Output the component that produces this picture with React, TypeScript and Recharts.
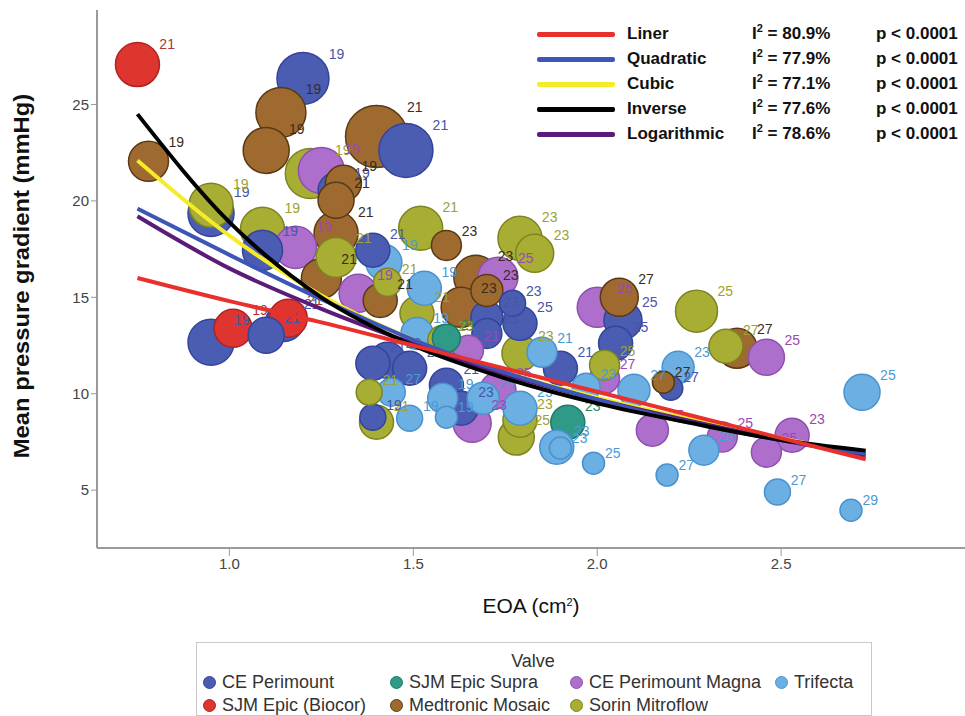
import { Scatter, ScatterChart, XAxis, YAxis, ZAxis } from "recharts";

// [EOA (cm2), mean gradient (mmHg), bubble weight, valve size label]
type Bubble = [number, number, number, string];

const cePerimount: Bubble[] = [
  [1.20, 26.35, 676, "19"], [1.48, 22.62, 729, "21"], [0.95, 19.35, 529, "19"],
  [0.95, 12.67, 529, "19"], [1.10, 13.03, 324, "21"], [1.15, 13.70, 361, "21"],
  [1.29, 20.54, 324, "19"], [1.09, 17.44, 400, "19"], [1.39, 17.44, 289, "21"],
  [1.39, 11.58, 289, "21"], [1.43, 11.74, 324, "23"], [1.49, 11.32, 289, "21"],
  [1.39, 8.78, 169, "19"], [1.59, 10.44, 289, "21"], [1.63, 9.25, 289, "23"],
  [1.70, 13.96, 256, "23"], [1.77, 14.69, 169, "23"], [1.79, 13.65, 289, "25"],
  [1.90, 11.32, 289, "21"], [2.07, 13.81, 361, "25"], [2.05, 12.62, 289, "25"],
  [2.20, 10.28, 144, "27"], [1.70, 13.13, 225, "23"],
];
const sjmBiocor: Bubble[] = [
  [0.75, 27.07, 484, "21"], [1.01, 13.39, 361, "19"], [1.16, 13.91, 361, "21"],
];
const sjmSupra: Bubble[] = [
  [1.92, 8.52, 289, "23"], [1.59, 12.88, 196, "21"],
];
const mosaic: Bubble[] = [
  [1.14, 24.59, 625, "19"], [1.10, 22.62, 529, "19"], [0.78, 22.05, 400, "19"],
  [1.40, 23.34, 961, "21"], [1.31, 20.91, 324, "19"], [1.29, 20.03, 324, "21"],
  [1.29, 18.32, 484, "21"], [1.59, 17.69, 225, "23"], [1.25, 15.98, 400, "21"],
  [1.41, 14.84, 289, "21"], [1.63, 14.48, 400, "23"], [1.67, 16.04, 484, "23"],
  [1.70, 15.36, 256, "23"], [2.06, 15.00, 361, "27"], [2.38, 12.36, 400, "27"],
  [2.18, 10.60, 121, "27"],
];
const magna: Bubble[] = [
  [1.25, 21.58, 529, "19"], [1.18, 17.59, 441, "19"], [1.35, 15.21, 361, "19"],
  [1.65, 12.25, 225, "21"], [1.66, 8.47, 361, "23"], [1.73, 16.04, 400, "25"],
  [2.00, 14.48, 400, "25"], [2.02, 10.80, 225, "27"], [2.15, 8.11, 256, "25"],
  [2.34, 7.75, 225, "25"], [2.46, 6.97, 225, "25"], [2.46, 11.89, 324, "25"],
  [2.53, 7.85, 289, "23"], [1.73, 10.18, 324, "25"],
];
const mitroflow: Bubble[] = [
  [0.95, 19.77, 484, "19"], [1.22, 21.42, 625, "19"], [1.09, 18.53, 484, "19"],
  [1.52, 18.58, 484, "21"], [1.29, 17.07, 400, "21"], [1.43, 15.78, 196, "21"],
  [1.51, 14.17, 289, "21"], [1.58, 12.77, 225, "23"], [1.79, 18.06, 484, "23"],
  [1.83, 17.28, 361, "23"], [1.79, 12.10, 324, "23"], [1.79, 8.63, 289, "23"],
  [1.78, 7.75, 324, "25"], [1.38, 10.08, 169, "21"], [1.40, 8.52, 289, "21"],
  [2.27, 14.28, 441, "25"], [2.35, 12.46, 289, "27"], [2.02, 11.48, 225, "25"],
];
const trifecta: Bubble[] = [
  [1.42, 16.81, 324, "19"], [1.53, 15.47, 289, "19"], [1.51, 13.13, 256, "19"],
  [1.44, 10.08, 196, "27"], [1.49, 8.73, 169, "19"], [1.58, 9.77, 225, "19"],
  [1.59, 8.78, 121, "19"], [1.69, 9.77, 256, "25"], [1.79, 9.25, 289, "25"],
  [1.85, 12.15, 225, "21"], [1.89, 7.23, 289, "23"], [1.90, 7.18, 121, "23"],
  [1.97, 10.34, 196, "23"], [1.99, 6.40, 121, "25"], [2.10, 10.18, 256, "27"],
  [2.22, 11.37, 256, "23"], [2.19, 5.78, 121, "27"], [2.29, 7.07, 225, "25"],
  [2.49, 4.90, 169, "27"], [2.69, 3.96, 121, "29"], [2.72, 10.08, 324, "25"],
];

// fitted curves
const fitEOA = [0.75, 1.0, 1.25, 1.5, 1.75, 2.0, 2.25, 2.5, 2.73];
const linerFit = [16.0, 14.8, 13.7, 12.5, 11.3, 10.1, 8.9, 7.7, 6.6];
const quadraticFit = [19.6, 17.2, 14.9, 12.8, 11.1, 9.7, 8.5, 7.6, 6.9];
const cubicFit = [22.1, 18.2, 15.1, 12.8, 11.1, 9.8, 8.7, 7.7, 6.8];
const inverseFit = [24.5, 18.9, 15.0, 12.5, 10.8, 9.5, 8.5, 7.6, 7.05];
const logFit = [19.2, 16.5, 14.4, 12.6, 11.0, 9.7, 8.6, 7.6, 6.8];

const xTicks = [1.0, 1.5, 2.0, 2.5];
const yTicks = [5, 10, 15, 20, 25];

const groups = [
  { name: "CE Perimount", fill: "#4A5DB2", stroke: "#33449A", text: "#4656A8", data: cePerimount },
  { name: "SJM Epic (Biocor)", fill: "#DE3530", stroke: "#B0231F", text: "#B03434", data: sjmBiocor },
  { name: "SJM Epic Supra", fill: "#2F9A88", stroke: "#1E7A68", text: "#2A8A5C", data: sjmSupra },
  { name: "Medtronic Mosaic", fill: "#9E6A30", stroke: "#5A3A14", text: "#3A2C1E", data: mosaic },
  { name: "CE Perimount Magna", fill: "#AE6FCC", stroke: "#8E4FAE", text: "#9A48B6", data: magna },
  { name: "Sorin Mitroflow", fill: "#A8AE34", stroke: "#7E8420", text: "#9CA232", data: mitroflow },
  { name: "Trifecta", fill: "#6CAFE3", stroke: "#4A92CF", text: "#4A9AD6", data: trifecta },
];
const byName = Object.fromEntries(groups.map((g) => [g.name, g]));
const legendRows = [
  ["CE Perimount", "SJM Epic Supra", "CE Perimount Magna", "Trifecta"],
  ["SJM Epic (Biocor)", "Medtronic Mosaic", "Sorin Mitroflow"],
];
const legendCols = [203, 390, 570, 775];

const fits = [
  { name: "Liner", color: "#E8302C", i2: "80.9%", ys: linerFit },
  { name: "Quadratic", color: "#3E55B8", i2: "77.9%", ys: quadraticFit },
  { name: "Cubic", color: "#F4EC2A", i2: "77.1%", ys: cubicFit },
  { name: "Inverse", color: "#000000", i2: "77.6%", ys: inverseFit },
  { name: "Logarithmic", color: "#5A1C78", i2: "78.6%", ys: logFit },
];
const drawOrder = ["Cubic", "Logarithmic", "Quadratic", "Inverse", "Liner"];

// SAS draws big bubbles first, small ones on top
const bubbles = groups
  .flatMap((g) => g.data.map(([x, y, z, label]) => ({ x, y, z, label, fill: g.fill, stroke: g.stroke, text: g.text })))
  .sort((a, b) => b.z - a.z);

const FONT = "'Liberation Sans', Arial, Helvetica, sans-serif";

const BubbleShape = (p: any) => {
  const r = p.width ? p.width / 2 : Math.sqrt(p.payload.z);
  return <circle cx={p.cx} cy={p.cy} r={r} fill={p.payload.fill} stroke={p.payload.stroke} strokeWidth={1.5} />;
};
const LabelShape = (p: any) => {
  const r = p.width ? p.width / 2 : Math.sqrt(p.payload.z);
  return (
    <text x={p.cx + r * 0.95 + 1} y={p.cy - r * 0.95 + 5} fill={p.payload.text} fontSize={14} fontFamily={FONT}>
      {p.payload.label}
    </text>
  );
};
const NoDot = () => <g />;

const sup = { position: "relative" as const, top: -7, fontSize: 11, lineHeight: 0 };

export default function App() {
  return (
    <div style={{ position: "absolute", left: 0, top: 0, width: 965, height: 716, background: "#fff", fontFamily: FONT, overflow: "hidden" }}>
      <ScatterChart width={965} height={600} margin={{ top: 10, right: 0, bottom: 12, left: 0 }}>
        <XAxis
          type="number"
          dataKey="x"
          domain={[0.64, 3.0]}
          ticks={xTicks}
          tickFormatter={(v) => v.toFixed(1)}
          allowDataOverflow
          height={40}
          stroke="#9a9a9a"
          axisLine={{ stroke: "#9a9a9a", strokeWidth: 2 }}
          tickSize={8}
          tick={{ fill: "#444", fontSize: 15, fontFamily: FONT }}
        />
        <YAxis
          type="number"
          dataKey="y"
          domain={[2, 29.9]}
          ticks={yTicks}
          allowDataOverflow
          width={97}
          stroke="#9a9a9a"
          axisLine={{ stroke: "#9a9a9a", strokeWidth: 2 }}
          tickSize={6}
          tick={{ fill: "#444", fontSize: 15, fontFamily: FONT }}
        />
        <ZAxis type="number" dataKey="z" domain={[0, 1296]} range={[0, 4072]} />
        <Scatter data={bubbles} shape={BubbleShape} isAnimationActive={false} />
        <Scatter data={bubbles} shape={LabelShape} isAnimationActive={false} />
        {drawOrder.map((n) => {
          const f = fits.find((d) => d.name === n)!;
          const data = fitEOA.map((x, i) => ({ x, y: f.ys[i] }));
          return (
            <Scatter
              key={n}
              data={data}
              shape={NoDot}
              line={{ stroke: f.color, strokeWidth: 4 }}
              lineJointType="monotoneX"
              isAnimationActive={false}
            />
          );
        })}
      </ScatterChart>

      {/* axis titles */}
      <div style={{ position: "absolute", left: 22, top: 276, transform: "translate(-50%, -50%) rotate(-90deg) scaleX(1.08)", whiteSpace: "nowrap", fontSize: 22, fontWeight: "bold", color: "#111" }}>
        Mean pressure gradient (mmHg)
      </div>
      <div style={{ position: "absolute", left: 531, top: 606, transform: "translate(-50%, -50%)", whiteSpace: "nowrap", fontSize: 21, color: "#111" }}>
        EOA (cm<span style={sup}>2</span>)
      </div>

      {/* fit legend */}
      {fits.map((f, i) => {
        const cy = 34 + i * 25;
        const txt = { position: "absolute" as const, top: cy - 11, lineHeight: "22px", height: 22, fontSize: 17, fontWeight: "bold" as const, color: "#111", whiteSpace: "nowrap" as const };
        return (
          <div key={f.name}>
            <div style={{ position: "absolute", left: 537, top: cy - 2.5, width: 78, height: 5, background: f.color, borderRadius: 2 }} />
            <div style={{ ...txt, left: 627 }}>{f.name}</div>
            <div style={{ ...txt, left: 752 }}>
              I<span style={sup}>2</span> = {f.i2}
            </div>
            <div style={{ ...txt, left: 876 }}>p &lt; 0.0001</div>
          </div>
        );
      })}

      {/* valve legend */}
      <div style={{ position: "absolute", left: 196, top: 642, width: 674, height: 72, border: "1px solid #c8c8c8" }} />
      <div style={{ position: "absolute", left: 533, top: 661, transform: "translate(-50%, -50%)", fontSize: 18, color: "#333" }}>Valve</div>
      {legendRows.map((row, ri) =>
        row.map((name, ci) => {
          const g = byName[name];
          const cy = 682 + ri * 23;
          return (
            <div key={name} style={{ position: "absolute", left: legendCols[ci], top: cy - 11, height: 22, display: "flex", alignItems: "center", whiteSpace: "nowrap" }}>
              <span style={{ width: 13, height: 13, borderRadius: "50%", background: g.fill, border: `1px solid ${g.stroke}`, boxSizing: "border-box", marginRight: 6 }} />
              <span style={{ fontSize: 18, color: "#333" }}>{name}</span>
            </div>
          );
        }),
      )}
    </div>
  );
}
